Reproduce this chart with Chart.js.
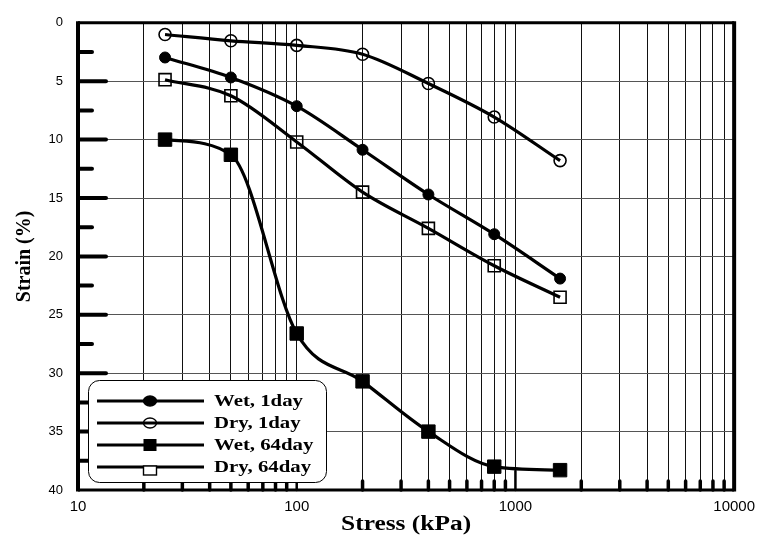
<!DOCTYPE html>
<html>
<head>
<meta charset="utf-8">
<script src="https://cdn.jsdelivr.net/npm/chart.js@4.4.1/dist/chart.umd.min.js"></script>
<style>
  html, body { margin: 0; padding: 0; background: #fff; }
  #wrap { width: 763px; height: 535px; }
</style>
</head>
<body>
<div id="wrap"><canvas id="c" width="763" height="535"></canvas></div>
<script>
// Consolidation test: strain versus applied stress
const stress   = [25, 50, 100, 200, 400, 800, 1600];
const wet1day  = [2.97, 4.68, 7.14, 10.87, 14.7, 18.1, 21.9];
const dry1day  = [1.0, 1.54, 1.93, 2.69, 5.2, 8.07, 11.8];
const wet64day = [10.0, 11.3, 26.6, 30.7, 35.0, 38.0, 38.3];
const dry64day = [4.87, 6.25, 10.2, 14.5, 17.6, 20.8, 23.5];

const seriesNames = ['Wet, 1day', 'Dry, 1day', 'Wet, 64day', 'Dry, 64day'];

// log-grid positions along the stress axis, labelled only at decades
const xGrid = [10, 20, 30, 40, 50, 60, 70, 80, 90,
               100, 200, 300, 400, 500, 600, 700, 800, 900,
               1000, 2000, 3000, 4000, 5000, 6000, 7000, 8000, 9000, 10000];
const xDecades = [10, 100, 1000, 10000];
const yMajor = [0, 5, 10, 15, 20, 25, 30, 35, 40];
const yMinor = [2.5, 7.5, 12.5, 17.5, 22.5, 27.5, 32.5, 37.5];

const toPoints = arr => stress.map((s, i) => ({ x: s, y: arr[i] }));

function series(label, values, style, filled, radius) {
  return {
    label,
    data: toPoints(values),
    borderColor: '#000',
    borderWidth: 3.2,
    cubicInterpolationMode: 'monotone',
    fill: false,
    pointStyle: style,
    pointRadius: radius,
    pointHoverRadius: radius,
    pointBackgroundColor: filled ? '#000' : 'rgba(0,0,0,0)',
    pointBorderColor: '#000',
    pointBorderWidth: filled ? 1 : 1.6
  };
}

// frame, inward tick marks, axis titles and the boxed legend
const decorations = {
  id: 'decorations',
  beforeDatasetsDraw(chart) {
    const { ctx, chartArea: a, scales } = chart;
    const xs = scales.x, ys = scales.y;
    ctx.save();
    ctx.strokeStyle = '#000';
    ctx.lineCap = 'round';
    // minor ticks along the strain axis
    ctx.lineWidth = 4;
    yMinor.forEach(v => {
      const py = ys.getPixelForValue(v);
      ctx.beginPath(); ctx.moveTo(a.left, py); ctx.lineTo(a.left + 14, py); ctx.stroke();
    });
    yMajor.slice(1, -1).forEach(v => {
      const py = ys.getPixelForValue(v);
      ctx.beginPath(); ctx.moveTo(a.left, py); ctx.lineTo(a.left + 28, py); ctx.stroke();
    });
    // ticks along the stress axis
    xGrid.forEach(v => {
      if (v === 10 || v === 10000) return;
      const px = xs.getPixelForValue(v);
      const major = xDecades.includes(v);
      ctx.lineWidth = major ? 2.5 : 3.5;
      ctx.beginPath(); ctx.moveTo(px, a.bottom); ctx.lineTo(px, a.bottom - (major ? 19 : 9)); ctx.stroke();
    });
    // plot frame
    ctx.lineCap = 'butt';
    ctx.lineWidth = 3;
    ctx.beginPath(); ctx.moveTo(a.left, a.top); ctx.lineTo(a.right, a.top); ctx.stroke();
    ctx.beginPath(); ctx.moveTo(a.left, a.bottom); ctx.lineTo(a.right, a.bottom); ctx.stroke();
    ctx.lineWidth = 4;
    ctx.beginPath(); ctx.moveTo(a.left, a.top - 1.5); ctx.lineTo(a.left, a.bottom + 1.5); ctx.stroke();
    ctx.beginPath(); ctx.moveTo(a.right, a.top - 1.5); ctx.lineTo(a.right, a.bottom + 1.5); ctx.stroke();

    // axis titles
    ctx.fillStyle = '#000';
    ctx.font = 'bold 20px "Liberation Serif"';
    ctx.textAlign = 'center';
    ctx.textBaseline = 'middle';
    ctx.save();
    ctx.translate((a.left + a.right) / 2, chart.height - 10);
    ctx.scale(1.27, 1);
    ctx.fillText('Stress (kPa)', 0, 0);
    ctx.restore();
    ctx.save();
    ctx.translate(25, (a.top + a.bottom) / 2);
    ctx.rotate(-Math.PI / 2);
    ctx.fillText('Strain (%)', 0, 0);
    ctx.restore();
    ctx.restore();
  },
  afterDraw(chart) {
    const { ctx, chartArea: a } = chart;
    const bx = a.left + 10, by = 380, bw = 238, bh = 102, r = 11;
    ctx.save();
    ctx.fillStyle = '#fff';
    ctx.strokeStyle = '#000';
    ctx.lineWidth = 1;
    ctx.beginPath();
    ctx.roundRect(bx + 0.5, by + 0.5, bw, bh, r);
    ctx.fill();
    ctx.stroke();

    chart.data.datasets.forEach((ds, i) => {
      const cy = by + 21 + i * 22;
      const x0 = bx + 9, x1 = bx + 116, mx = bx + 62;
      ctx.strokeStyle = '#000';
      ctx.lineWidth = 3.2;
      ctx.beginPath(); ctx.moveTo(x0, cy); ctx.lineTo(x1, cy); ctx.stroke();
      const filled = ds.pointBackgroundColor === '#000';
      ctx.lineWidth = 1.4;
      if (ds.pointStyle === 'circle') {
        ctx.beginPath();
        ctx.ellipse(mx, cy, 6.5, 5, 0, 0, Math.PI * 2);
        if (filled) { ctx.fillStyle = '#000'; ctx.fill(); }
        ctx.stroke();
      } else if (filled) {
        ctx.fillStyle = '#000';
        ctx.fillRect(mx - 6.5, cy - 6, 13, 12);
      } else {
        ctx.fillStyle = '#fff';
        ctx.fillRect(mx - 6.5, cy - 1, 13, 9);
        ctx.strokeRect(mx - 6.5, cy - 1, 13, 9);
      }
      ctx.save();
      ctx.fillStyle = '#000';
      ctx.font = 'bold 16px "Liberation Serif"';
      ctx.textAlign = 'left';
      ctx.textBaseline = 'middle';
      ctx.translate(bx + 126, cy + 1);
      ctx.scale(1.3, 1);
      ctx.fillText(ds.label, 0, 0);
      ctx.restore();
    });
    ctx.restore();
  }
};

new Chart(document.getElementById('c'), {
  type: 'line',
  data: {
    datasets: [
      series(seriesNames[0], wet1day, 'circle', true, 5.5),
      series(seriesNames[1], dry1day, 'circle', false, 6),
      series(seriesNames[2], wet64day, 'rect', true, 9.5),
      series(seriesNames[3], dry64day, 'rect', false, 8.5)
    ]
  },
  options: {
    responsive: false,
    animation: false,
    devicePixelRatio: 1,
    layout: { padding: { top: 14, right: 25, left: 0, bottom: 0 } },
    plugins: { legend: { display: false }, tooltip: { enabled: false } },
    scales: {
      x: {
        type: 'logarithmic',
        min: 10,
        max: 10000,
        afterBuildTicks: s => { s.ticks = xGrid.map(v => ({ value: v, major: xDecades.includes(v) })); },
        afterFit: s => { s.height = 45; },
        ticks: {
          autoSkip: false,
          maxRotation: 0,
          padding: 8,
          color: '#000',
          font: { family: '"Liberation Sans"', size: 15 },
          callback: v => (xDecades.includes(v) ? String(v) : '')
        },
        grid: {
          drawTicks: false,
          lineWidth: 1,
          color: c => (c.tick && (c.tick.value === 10 || c.tick.value === 10000)) ? 'rgba(0,0,0,0)' : '#111'
        },
        border: { display: false },
        title: { display: false }
      },
      y: {
        reverse: true,
        min: 0,
        max: 40,
        afterBuildTicks: s => { s.ticks = yMajor.map(v => ({ value: v })); },
        afterFit: s => { s.width = 78; },
        ticks: {
          padding: 15,
          color: '#000',
          font: { family: '"Liberation Sans"', size: 13 }
        },
        grid: {
          drawTicks: false,
          lineWidth: 1,
          color: c => (c.tick && (c.tick.value === 0 || c.tick.value === 40)) ? 'rgba(0,0,0,0)' : '#555'
        },
        border: { display: false },
        title: { display: false }
      }
    }
  },
  plugins: [decorations]
});
</script>
</body>
</html>
